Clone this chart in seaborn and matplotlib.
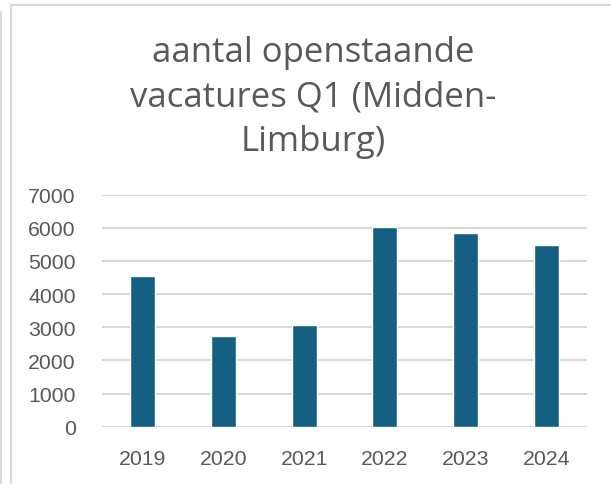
import matplotlib
matplotlib.use("Agg")
import matplotlib.pyplot as plt
import seaborn as sns
import pandas as pd
from matplotlib.lines import Line2D

# data
years = ['2019', '2020', '2021', '2022', '2023', '2024']
vacatures = [4540, 2740, 3080, 6040, 5850, 5480]
y_ticks = [0, 1000, 2000, 3000, 4000, 5000, 6000, 7000]

df = pd.DataFrame({'jaar': years, 'vacatures': vacatures})

sns.set_theme(style='white')
plt.rcParams['font.family'] = ['Liberation Sans', 'DejaVu Sans']

bar_color = '#156082'
text_color = '#595959'
grid_color = '#d9d9d9'

fig = plt.figure(figsize=(6.11, 4.85), dpi=100)
W, H = 611, 485
ax = fig.add_axes([102 / W, (H - 427.7) / H, (587 - 102) / W, (427.7 - 195.7) / H])

sns.barplot(data=df, x='jaar', y='vacatures', color=bar_color, width=0.31,
            saturation=1, ax=ax, zorder=3)

ax.set_xlim(-0.5, len(years) - 0.5)
ax.set_ylim(0, 7000)
ax.set_yticks(y_ticks)
ax.set_yticklabels([str(t) for t in y_ticks])
ax.grid(axis='y', color=grid_color, linewidth=1.5, zorder=0)
ax.grid(axis='x', visible=False)
for s in ax.spines.values():
    s.set_visible(False)
ax.set_xlabel('')
ax.set_ylabel('')
ax.tick_params(axis='y', length=0, pad=19, labelsize=15.3, labelcolor=text_color)
ax.tick_params(axis='x', length=0, pad=16, labelsize=15.3, labelcolor=text_color)

fig.text(313.5 / W, 1 - 97.5 / H, 'aantal openstaande\nvacatures Q1 (Midden-\nLimburg)',
         ha='center', va='center', fontsize=25, color=text_color,
         linespacing=1.42, family=['Open Sans', 'DejaVu Sans'])

# chart frame and window edge
fig.add_artist(Line2D([11 / W, 11 / W], [0, 1 - 5.5 / H], color=grid_color, linewidth=1.5))
fig.add_artist(Line2D([11 / W, 1], [1 - 5.5 / H, 1 - 5.5 / H], color=grid_color, linewidth=1.5))
fig.add_artist(Line2D([0.8 / W, 0.8 / W], [0, 1 - 13 / H], color=grid_color, linewidth=1.5))

fig.savefig('out.png', dpi=100)
